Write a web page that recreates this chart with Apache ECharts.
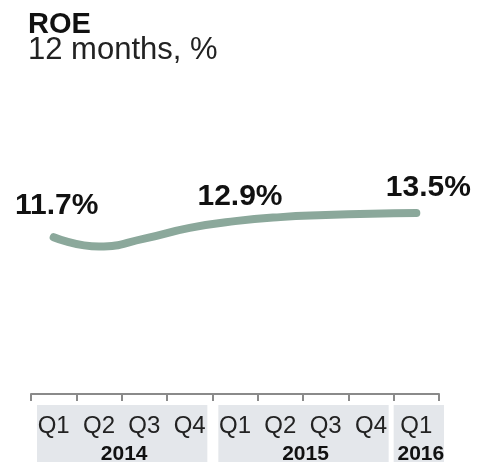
<!DOCTYPE html>
<html>
<head>
<meta charset="utf-8">
<script src="https://cdn.jsdelivr.net/npm/echarts@6/dist/echarts.min.js"></script>
<style>
  html, body { margin: 0; padding: 0; background: #fff; }
  #main { width: 479px; height: 462px; }
</style>
</head>
<body>
<div id="main"></div>
<script>
// data
var quarters = ['2014 Q1', '2014 Q2', '2014 Q3', '2014 Q4', '2015 Q1', '2015 Q2', '2015 Q3', '2015 Q4', '2016 Q1'];
var roe = [11.7, 11.0, 11.6, 12.4, 12.9, 13.2, 13.35, 13.45, 13.5];
var labelled = [0, 4, 8];
var years = ['2014', '2015', '2016'];
var yearSpan = [4, 4, 1];

var font = 'Liberation Sans, Arial, sans-serif';
var lineColor = '#8ba89b';

// label tweaks per labelled point: [x offset, distance]
var labelPos = { 0: [3, 15], 4: [5, 8], 8: [12, 9] };

var seriesData = roe.map(function (v, i) {
    var item = { value: v };
    if (labelled.indexOf(i) >= 0) {
        item.label = {
            show: true,
            position: 'top',
            offset: [labelPos[i][0], 0],
            distance: labelPos[i][1],
            formatter: v.toFixed(1) + '%',
            fontFamily: font,
            fontWeight: 'bold',
            fontSize: 30,
            color: '#111'
        };
    }
    return item;
});

var chart = echarts.init(document.getElementById('main'));
chart.setOption({
    animation: false,
    title: [
        { text: 'ROE', left: 28, top: 10, padding: 0,
          textStyle: { fontFamily: font, fontWeight: 'bold', fontSize: 29, color: '#111' } },
        { text: '12 months, %', left: 28, top: 35, padding: 0,
          textStyle: { fontFamily: font, fontWeight: 'normal', fontSize: 31, color: '#222' } }
    ],
    grid: { left: 31, right: 40, top: 126, bottom: 68 },
    xAxis: {
        type: 'category',
        boundaryGap: true,
        data: quarters,
        axisLine: { lineStyle: { color: '#8a8a8a', width: 2 } },
        axisTick: { show: true, length: 7, lineStyle: { color: '#8a8a8a', width: 2 } },
        axisLabel: {
            interval: 0,
            margin: 20,
            fontFamily: font,
            fontSize: 24,
            color: '#222',
            formatter: function (v) { return v.split(' ')[1]; }
        }
    },
    yAxis: {
        type: 'value',
        min: 0,
        max: 20,
        show: false
    },
    series: [{
        type: 'line',
        data: seriesData,
        smooth: true,
        symbol: 'circle',
        symbolSize: 2,
        showAllSymbol: true,
        itemStyle: { color: lineColor },
        lineStyle: { color: lineColor, width: 8, cap: 'round', join: 'round' },
        label: { show: false }
    }]
});

// year boxes below the axis, placed from the category scale
var c0 = chart.convertToPixel({ xAxisIndex: 0 }, 0);
var c1 = chart.convertToPixel({ xAxisIndex: 0 }, 1);
var band = c1 - c0;
var graphics = [];
var start = 0;
years.forEach(function (y, k) {
    var x0 = c0 + (start - 0.5) * band;
    var x1 = c0 + (start + yearSpan[k] - 0.5) * band;
    var left = x0 + (yearSpan[k] > 1 ? 6 : 0);
    var right = x1 + (yearSpan[k] > 1 ? -5 : 5);
    graphics.push({
        type: 'rect', z: -1,
        shape: { x: left, y: 405, width: right - left, height: 60 },
        style: { fill: '#e4e7eb' }
    });
    graphics.push({
        type: 'text', z: 10,
        x: (left + right) / 2 + 2, y: 454,
        style: {
            text: y, align: 'center', verticalAlign: 'middle',
            font: 'bold 21px ' + font, fill: '#111'
        }
    });
    start += yearSpan[k];
});
chart.setOption({ graphic: graphics });
</script>
</body>
</html>
